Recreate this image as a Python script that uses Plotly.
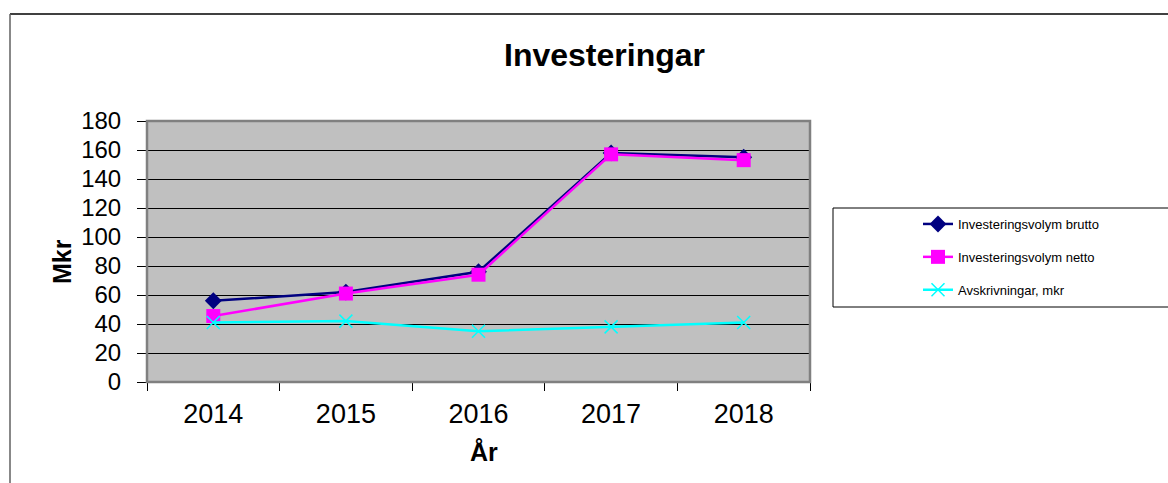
import plotly.graph_objects as go

years = ["2014", "2015", "2016", "2017", "2018"]
brutto = [56, 62, 76, 158, 155]
netto = [45.5, 61, 74, 157, 153]
avskr = [41, 42, 35, 38, 41]
yticks = [0, 20, 40, 60, 80, 100, 120, 140, 160, 180]

W, H = 1168, 483
L, R, T, B = 147, 810, 121, 382
pw, ph = R - L, B - T

def px(x):
    return (x - L) / pw

def py(y):
    return (B - y) / ph

FONT = "Liberation Sans, Arial, sans-serif"

fig = go.Figure()
fig.add_trace(go.Scatter(x=years, y=brutto, name="Investeringsvolym brutto",
                         mode="lines+markers", legendgroup="a",
                         line=dict(color="#000080", width=2.5),
                         marker=dict(symbol="diamond", size=13, color="#000080")))
fig.add_trace(go.Scatter(x=years, y=netto, name="Investeringsvolym netto",
                         mode="lines+markers", legendgroup="b",
                         line=dict(color="#FF00FF", width=2.5),
                         marker=dict(symbol="square", size=14, color="#FF00FF")))
fig.add_trace(go.Scatter(x=years, y=avskr, name="Avskrivningar, mkr",
                         mode="lines+markers", legendgroup="c",
                         line=dict(color="#00FFFF", width=2.5),
                         marker=dict(symbol="x-thin", size=13, color="#00FFFF",
                                     line=dict(color="#00FFFF", width=1.5))))

fig.update_layout(
    width=W, height=H,
    margin=dict(l=L, r=W - R, t=T, b=H - B, pad=0),
    paper_bgcolor="white", plot_bgcolor="#C0C0C0",
    font=dict(family=FONT, color="black"),
    showlegend=True,
    legend=dict(x=px(918), y=py(209), xanchor="left", yanchor="top",
                bgcolor="rgba(0,0,0,0)", borderwidth=0,
                font=dict(size=13, family=FONT), tracegroupgap=13,
                itemwidth=30),
    xaxis=dict(type="category", range=[-0.5, 4.5], tickson="boundaries",
               ticks="outside", ticklen=8, tickcolor="black", tickwidth=1,
               ticklabelstandoff=8,
               showgrid=False, showline=True, linecolor="black", linewidth=1,
               tickfont=dict(size=27, family=FONT), fixedrange=True),
    yaxis=dict(range=[0, 180], tickvals=yticks, ticks="outside", ticklen=9,
               tickcolor="black", tickwidth=1, showgrid=True,
               ticklabelstandoff=11,
               gridcolor="black", gridwidth=1, zeroline=False,
               showline=True, linecolor="black", linewidth=1,
               tickfont=dict(size=24, family=FONT), fixedrange=True),
    shapes=[
        dict(type="line", xref="paper", yref="paper", x0=px(10), x1=px(1180),
             y0=py(14), y1=py(14), line=dict(color="black", width=1.5),
             layer="below"),
        dict(type="line", xref="paper", yref="paper", x0=px(10), x1=px(10),
             y0=py(14), y1=py(500), line=dict(color="#606060", width=1.5),
             layer="below"),
        dict(type="rect", xref="paper", yref="paper", x0=0, x1=1, y0=0, y1=1,
             line=dict(color="#808080", width=2.5), layer="above"),
        dict(type="rect", xref="paper", yref="paper", x0=px(833), x1=px(1180),
             y0=py(307), y1=py(208), line=dict(color="black", width=1)),
    ],
    annotations=[
        dict(text="<b>Investeringar</b>", xref="paper", yref="paper",
             x=px(604), y=py(55), showarrow=False, xanchor="center",
             yanchor="middle", font=dict(size=32, family=FONT)),
        dict(text="<b>Mkr</b>", xref="paper", yref="paper", x=px(62),
             y=py(262), textangle=-90, showarrow=False, xanchor="center",
             yanchor="middle", font=dict(size=25, family=FONT)),
        dict(text="<b>År</b>", xref="paper", yref="paper", x=px(484),
             y=py(452), showarrow=False, xanchor="center", yanchor="middle",
             font=dict(size=25, family=FONT)),
    ],
)

fig.write_html("out.html", config={"displayModeBar": False},
               post_script="document.body.style.margin='0';document.body.style.overflow='hidden';")
